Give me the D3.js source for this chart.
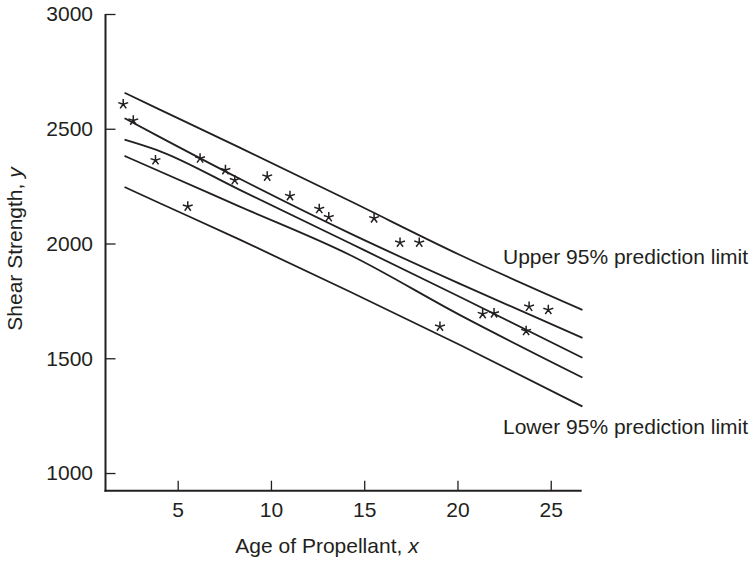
<!DOCTYPE html>
<html>
<head>
<meta charset="utf-8">
<script src="https://cdn.jsdelivr.net/npm/d3@7"></script>
<style>
  html, body { margin: 0; padding: 0; background: #fff; }
  svg text { font-family: "Liberation Sans", Arial, Helvetica, sans-serif; fill: #231f20; }
</style>
</head>
<body>
<svg id="chart" width="753" height="564"></svg>
<script>
// ---- data ----
const ageX = [2.08, 2.62, 3.81, 5.54, 6.20, 7.56, 8.06, 9.80, 11.02, 12.59,
              13.10, 15.53, 16.92, 17.95, 19.06, 21.35, 21.96, 23.84, 24.87, 23.68];
const strengthY = [2607, 2536, 2363, 2161, 2371, 2320, 2276, 2292, 2207, 2151,
                   2115, 2110, 2004, 2004, 1638, 1693, 1696, 1725, 1711, 1619];

const bandX       = [2.15, 3.9, 8.3, 14.24, 20.14, 26.7];
const upperPred   = [2657, 2589, 2419, 2185, 1950, 1711];
const upperConf   = [2546, 2470, 2283, 2044, 1824, 1589];
const fitted      = [2453, 2407, 2235, 2001, 1767, 1502];
const lowerConf   = [2382, 2319, 2162, 1950, 1688, 1416];
const lowerPred   = [2246, 2181, 2018, 1790, 1558, 1290];

const xTicks = [5, 10, 15, 20, 25];
const yTicks = [1000, 1500, 2000, 2500, 3000];
const xTitle = "Age of Propellant, ";
const yTitle = "Shear Strength, ";
const upperLabel = "Upper 95% prediction limit";
const lowerLabel = "Lower 95% prediction limit";

// ---- layout ----
const svg = d3.select("#chart");
const FS = 21;
const ink = "#231f20";

const x = d3.scaleLinear().domain([1.13, 26.66]).range([105.5, 581.7]);
const y = d3.scaleLinear().domain([923, 3000]).range([490.7, 14]);

// axes
const yAxis = d3.axisLeft(y).tickValues(yTicks).tickSizeInner(-10).tickSizeOuter(0).tickPadding(12.5)
  .tickFormat(d3.format("d"));
const xAxis = d3.axisBottom(x).tickValues(xTicks).tickSizeInner(-10).tickSizeOuter(0).tickPadding(11.5);

const gy = svg.append("g").attr("transform", `translate(${x.range()[0]},0)`).call(yAxis);
const gx = svg.append("g").attr("transform", `translate(0,${y.range()[0]})`).call(xAxis);

[gx, gy].forEach(g => {
  g.select(".domain").attr("stroke", ink).attr("stroke-width", 2);
  g.selectAll(".tick line").attr("stroke", ink).attr("stroke-width", 1.3);
  g.selectAll(".tick text").attr("font-size", FS).attr("font-family", null).attr("fill", ink);
});
gy.select(".domain").attr("d", `M0,${y.range()[1]}V${y.range()[0] + 1}`);
gx.select(".domain").attr("d", `M${x.range()[0] - 1},0H${x.range()[1]}`);

// band lines
const line = d3.line().curve(d3.curveMonotoneX).x((d, i) => x(bandX[i])).y(d => y(d));
[upperPred, upperConf, fitted, lowerConf, lowerPred].forEach(arr => {
  svg.append("path").datum(arr).attr("d", line)
    .attr("fill", "none").attr("stroke", ink).attr("stroke-width", 1.8);
});

// asterisk markers
const r = 5.2;
let star = "";
for (let k = 0; k < 5; k++) {
  const a = (-90 + 72 * k) * Math.PI / 180;
  star += `M0,0L${(r * Math.cos(a)).toFixed(2)},${(r * Math.sin(a)).toFixed(2)}`;
}
svg.append("g").selectAll("path").data(ageX).join("path")
  .attr("transform", (d, i) => `translate(${x(d)},${y(strengthY[i])})`)
  .attr("d", star).attr("fill", "none").attr("stroke", ink).attr("stroke-width", 1.5);

// titles
svg.append("text").attr("x", 327).attr("y", 553).attr("text-anchor", "middle").attr("font-size", FS)
  .text(xTitle).append("tspan").attr("font-style", "italic").text("x");
svg.append("text").attr("transform", "translate(22,249) rotate(-90)").attr("text-anchor", "middle")
  .attr("font-size", FS).text(yTitle).append("tspan").attr("font-style", "italic").text("y");

// band labels
svg.append("text").attr("x", 503).attr("y", 264).attr("font-size", FS).text(upperLabel);
svg.append("text").attr("x", 503).attr("y", 434).attr("font-size", FS).text(lowerLabel);
</script>
</body>
</html>
